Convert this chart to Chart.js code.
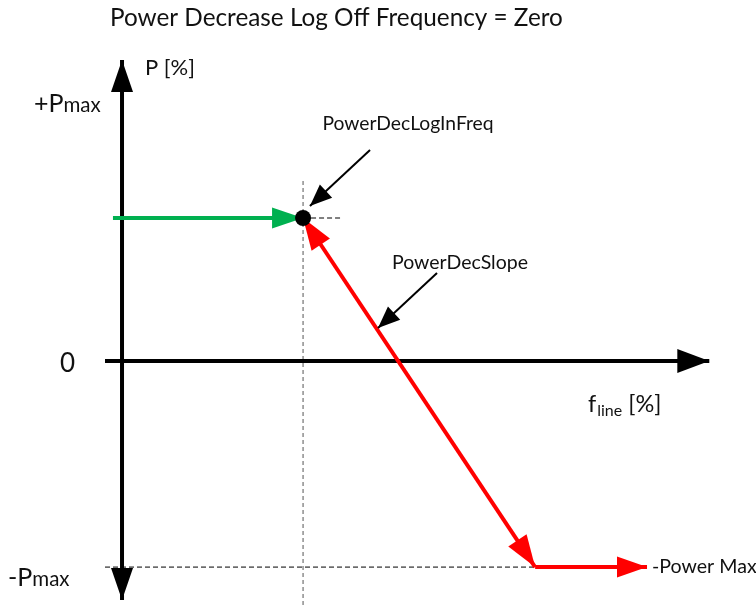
<!DOCTYPE html>
<html>
<head>
<meta charset="utf-8">
<script src="https://cdn.jsdelivr.net/npm/chart.js@4.4.0/dist/chart.umd.min.js"></script>
<style>
  html, body { margin: 0; padding: 0; background: #fff; }
  #wrap { width: 756px; height: 605px; position: relative; }
</style>
</head>
<body>
<div id="wrap"><canvas id="chart"></canvas></div>
<script>
// diagram units: x = line frequency (arbitrary %), y = power in % of Pmax
var pMax = 100;
var logInFreq = 50;          // PowerDecLogInFreq
var logInPower = 69.4;       // power level where the decrease starts
var slopeEndFreq = 114.1;    // slope reaches -Pmax here
var powerMaxEndFreq = 145;   // end of the -Power Max segment
var plusPmaxLevel = 126.7;   // where the +Pmax label sits

var xAxisLine = [-4.7, 162.2];
var yAxisLine = [-116, 146.1];
var greenStart = -2.5;
var vGuide = [-118.4, 88.3];
var hGuideEnd = 61;

// annotation pointers [start, tip]
var decLogInPointer = [[68.5, 102.4], [51.9, 75.2]];
var decSlopePointer = [[87.0, 42.7], [70.7, 16.0]];

var xRange = [-33.7, 175.1];
var yRange = [-118.4, 175.2];

var FONT = 'Lato, "Open Sans", sans-serif';

function seg(a, b) {
  return [{ x: a[0], y: a[1] }, { x: b[0], y: b[1] }];
}

function head(ctx, from, to, len, half, color) {
  var ang = Math.atan2(to.y - from.y, to.x - from.x);
  ctx.save();
  ctx.translate(to.x, to.y);
  ctx.rotate(ang);
  ctx.beginPath();
  ctx.moveTo(0, 0);
  ctx.lineTo(-len, -half);
  ctx.lineTo(-len, half);
  ctx.closePath();
  ctx.fillStyle = color;
  ctx.fill();
  ctx.restore();
}

// draws arrow heads right after each dataset so stacking order is kept
var arrowPlugin = {
  id: 'arrows',
  afterDatasetDraw: function(chart, args) {
    var ds = chart.data.datasets[args.index];
    var pts = args.meta.data;
    if (!ds.arrow || pts.length < 2) return;
    var ctx = chart.ctx;
    var a = ds.arrow;
    var n = pts.length;
    if (a.end) head(ctx, pts[n - 2], pts[n - 1], a.len, a.half, ds.borderColor);
    if (a.start) head(ctx, pts[1], pts[0], a.len, a.half, ds.borderColor);
  }
};

function text(ctx, s, x, y, size, align) {
  ctx.font = size + 'px ' + FONT;
  ctx.textAlign = align || 'left';
  ctx.fillText(s, x, y);
  return ctx.measureText(s).width;
}

var labelPlugin = {
  id: 'labels',
  afterDraw: function(chart) {
    var ctx = chart.ctx;
    var xs = chart.scales.x, ys = chart.scales.y;
    ctx.save();
    ctx.fillStyle = '#111';
    ctx.textBaseline = 'alphabetic';

    text(ctx, 'Power Decrease Log Off Frequency = Zero', 110, 26, 24.3);

    var ax = xs.getPixelForValue(0);
    text(ctx, 'P [%]', ax + 23, 75, 22);

    // +Pmax
    var yp = ys.getPixelForValue(plusPmaxLevel) + 12;
    var w = text(ctx, '+P', 34, yp, 25);
    text(ctx, 'max', 34 + w, yp, 20.5);

    // 0
    text(ctx, '0', 75, ys.getPixelForValue(0) + 11, 26, 'right');

    // -Pmax
    var yn = ys.getPixelForValue(-pMax) + 19;
    w = text(ctx, '-P', 8, yn, 25);
    text(ctx, 'max', 8 + w, yn, 20.5);

    // f_line [%]
    var fb = 412;
    w = text(ctx, 'f', 588, fb, 23.5);
    var w2 = text(ctx, 'line', 588 + w + 1, fb + 4, 16);
    text(ctx, ' [%]', 588 + w + 1 + w2, fb, 23.5);

    text(ctx, 'PowerDecLogInFreq', 408, 130, 19.3, 'center');
    text(ctx, 'PowerDecSlope', 460, 269, 19.5, 'center');

    text(ctx, '-Power Max', xs.getPixelForValue(powerMaxEndFreq) + 5,
         ys.getPixelForValue(-pMax) + 6, 19.6);
    ctx.restore();
  }
};

var solid = { showLine: true, pointRadius: 0, fill: false, tension: 0, borderCapStyle: 'butt' };
function line(opts) { return Object.assign({}, solid, opts); }

var datasets = [
  // operating point dot (index 0 is drawn on top)
  {
    data: [{ x: logInFreq, y: logInPower }],
    showLine: false, pointRadius: 8, pointBackgroundColor: '#000', pointBorderWidth: 0
  },
  line({ data: seg(decLogInPointer[0], decLogInPointer[1]), borderColor: '#000', borderWidth: 2,
         arrow: { end: true, len: 22, half: 9 } }),
  line({ data: seg(decSlopePointer[0], decSlopePointer[1]), borderColor: '#000', borderWidth: 2,
         arrow: { end: true, len: 22, half: 9 } }),
  line({ data: seg([greenStart, logInPower], [logInFreq, logInPower]), borderColor: '#00B050', borderWidth: 4,
         arrow: { end: true, len: 31, half: 10.5 } }),
  line({ data: seg([slopeEndFreq, -pMax], [powerMaxEndFreq, -pMax]), borderColor: '#FF0000', borderWidth: 4,
         arrow: { end: true, len: 30, half: 10.5 } }),
  line({ data: seg([logInFreq, logInPower], [slopeEndFreq, -pMax]), borderColor: '#FF0000', borderWidth: 4,
         arrow: { start: true, end: true, len: 32, half: 11 } }),
  line({ data: seg([xAxisLine[0], 0], [xAxisLine[1], 0]), borderColor: '#000', borderWidth: 4,
         arrow: { end: true, len: 32, half: 12 } }),
  line({ data: seg([0, yAxisLine[0]], [0, yAxisLine[1]]), borderColor: '#000', borderWidth: 4,
         arrow: { start: true, end: true, len: 32, half: 11 } }),
  // dashed guides
  line({ data: seg([logInFreq, logInPower], [hGuideEnd, logInPower]), borderColor: '#000', borderWidth: 1, borderDash: [5, 3] }),
  line({ data: seg([xAxisLine[0], -pMax], [powerMaxEndFreq, -pMax]), borderColor: '#000', borderWidth: 1, borderDash: [5, 3] }),
  line({ data: seg([logInFreq, vGuide[0]], [logInFreq, vGuide[1]]), borderColor: '#555', borderWidth: 1, borderDash: [4, 3] })
];

new Chart(document.getElementById('chart').getContext('2d'), {
  type: 'scatter',
  data: { datasets: datasets },
  options: {
    responsive: true,
    maintainAspectRatio: false,
    animation: false,
    events: [],
    layout: { padding: 0, autoPadding: false },
    plugins: { legend: { display: false }, tooltip: { enabled: false } },
    scales: {
      x: { type: 'linear', display: false, min: xRange[0], max: xRange[1] },
      y: { type: 'linear', display: false, min: yRange[0], max: yRange[1] }
    }
  },
  plugins: [arrowPlugin, labelPlugin]
});
</script>
</body>
</html>
